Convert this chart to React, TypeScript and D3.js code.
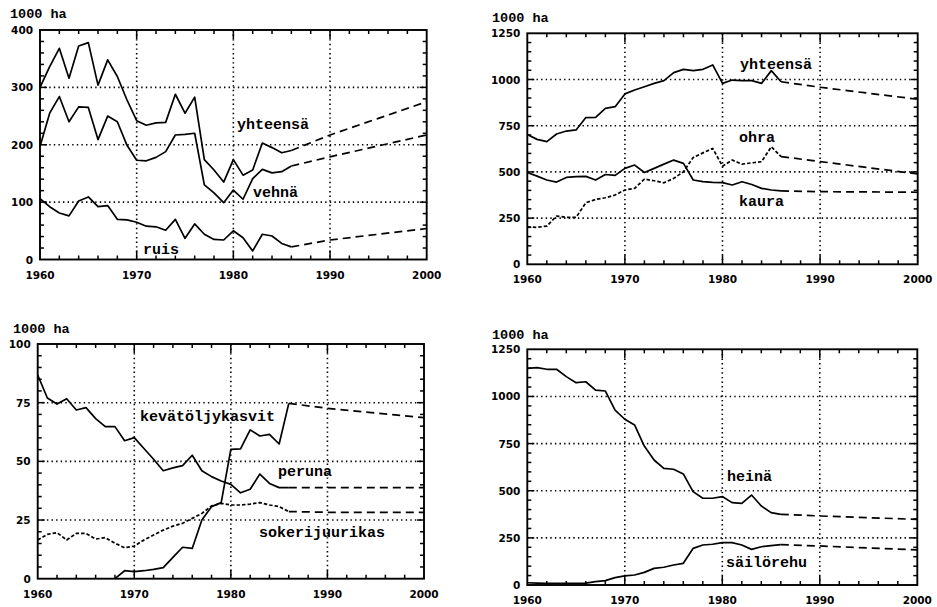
import React from 'react';
import * as d3 from 'd3';

// ---------- DATA ----------
const histYears = [1960,1961,1962,1963,1964,1965,1966,1967,1968,1969,1970,1971,1972,1973,1974,1975,1976,1977,1978,1979,1980,1981,1982,1983,1984,1985,1986];
const projYears3 = [1986, 1990, 2000];
const projYears4 = [1986, 1990, 1995, 2000];
const xTickLabels = ['1960', '1970', '1980', '1990', '2000'];

// Panel 1: yhteensä / vehnä / ruis
const p1Yhteensa = [300,336,368,316,372,378,304,348,319,278,242,234,238,239,288,255,283,174,156,135,174,147,156,203,195,186,190];
const p1YhteensaProj = [190,217,246,275];
const p1Vehna = [197,255,284,240,266,265,209,250,240,199,173,172,178,188,217,218,220,130,116,99,121,105,141,157,151,153,163];
const p1VehnaProj = [163,179,198,217];
const p1Ruis = [106,92,81,76,102,109,92,94,70,69,65,58,57,51,70,37,62,44,35,34,50,38,15,44,41,28,22];
const p1RuisProj = [22,34,44,54];
const p1YTicks = [0,100,200,300,400];

// Panel 2: yhteensä / ohra / kaura
const p2Yhteensa = [703,676,664,705,721,727,794,795,844,853,922,943,961,979,994,1037,1055,1048,1055,1079,979,997,994,994,979,1048,988];
const p2YhteensaProj = [988,958,893];
const p2Ohra = [203,200,207,261,254,254,333,351,360,375,402,411,461,452,441,465,501,578,603,627,531,564,542,549,555,636,583];
const p2OhraProj = [583,556,489];
const p2Kaura = [497,477,456,445,470,474,476,456,486,481,519,537,497,519,542,564,546,456,447,443,442,429,447,432,411,402,397];
const p2KauraProj = [397,393,390];
const p2YTicks = [0,250,500,750,1000,1250];

// Panel 3: kevätöljykasvit / peruna / sokerijuurikas
const p3Peruna = [86.8,77,74.4,76.7,71.9,72.9,68.2,64.8,64.8,58.8,60.1,55.5,50.9,46.0,47.2,48.2,52.6,46.0,43.5,41.6,40.2,36.6,38.1,44.6,40.6,38.8,38.8];
const p3PerunaProj = [38.8,38.8,38.8];
const p3OljyYears = [1968,1969,1970,1971,1972,1973,1974,1975,1976,1977,1978,1979,1980,1981,1982,1983,1984,1985,1986];
const p3Oljy = [0,3.4,3.0,3.4,4.0,4.7,9.1,13.4,12.9,25,30.7,32.4,55.1,55.3,63.4,60.8,61.5,57.4,74.7];
const p3OljyProj = [74.7,72.6,68.6];
const p3Sokeri = [16.5,18.9,19.6,16.5,19.3,19.3,16.9,17.5,15.1,13.2,13.9,16.5,18.6,20.7,22.4,23.6,25.7,27.8,31,32.1,31.4,31.4,31.8,32.4,31.4,30.7,28.6];
const p3SokeriProj = [28.6,28.3,28.3];
const p3YTicks = [0,25,50,75,100];

// Panel 4: heinä / säilörehu
const p4Heina = [1149,1153,1144,1144,1105,1073,1078,1034,1029,928,879,849,737,663,619,614,589,495,460,460,469,437,433,477,419,384,375];
const p4HeinaProj = [375,366,348];
const p4Sailo = [12,10,9,9,9,9,10,18,23,39,48,53,67,88,94,106,115,194,212,216,225,225,212,189,203,209,214];
const p4SailoProj = [214,207,186];
const p4YTicks = [0,250,500,750,1000,1250];

// ---------- RENDERING ----------
type Series = {
  years: number[]; values: number[];
  projYears: number[]; proj: number[];
  shortDash?: boolean;
};
type Label = { text: string; x: number; y: number };
type PanelProps = {
  x0: number; x1: number; yTop: number; yBot: number;
  yTicks: number[]; yMinor: number;
  series: Series[]; labels: Label[];
  unitX: number; unitY: number;
};

const tickFont = '"DejaVu Sans", sans-serif';
const monoFont = '"Liberation Mono", "DejaVu Sans Mono", monospace';

function Panel(p: PanelProps) {
  const x = d3.scaleLinear().domain([1960, 2000]).range([p.x0, p.x1]);
  const yMax = p.yTicks[p.yTicks.length - 1];
  const y = d3.scaleLinear().domain([0, yMax]).range([p.yBot, p.yTop]);
  const line = d3.line<[number, number]>().x(d => x(d[0])).y(d => y(d[1]));
  const minorX = d3.range(1962, 2000, 2);
  const minorY = d3.range(p.yMinor, yMax, p.yMinor);
  const grid = p.yTicks.slice(1, -1);
  const vGrid = [1970, 1980, 1990];
  return (
    <g>
      {grid.map(v => (
        <line key={'h' + v} x1={p.x0} x2={p.x1} y1={y(v)} y2={y(v)} stroke="#000" strokeWidth={1.6} strokeDasharray="1.4,3.2" />
      ))}
      {vGrid.map(v => (
        <line key={'v' + v} x1={x(v)} x2={x(v)} y1={p.yTop} y2={p.yBot} stroke="#000" strokeWidth={1.6} strokeDasharray="1.4,3.2" />
      ))}
      {minorX.map(v => {
        const len = v % 10 === 0 ? 9 : 4;
        return (
          <g key={'mx' + v}>
            <line x1={x(v)} x2={x(v)} y1={p.yBot} y2={p.yBot - len} stroke="#000" strokeWidth={1.5} />
            <line x1={x(v)} x2={x(v)} y1={p.yTop} y2={p.yTop + len} stroke="#000" strokeWidth={1.5} />
          </g>
        );
      })}
      {minorY.map(v => {
        const major = p.yTicks.includes(v);
        const len = major ? 7 : 4;
        return (
          <g key={'my' + v}>
            <line x1={p.x0} x2={p.x0 + len} y1={y(v)} y2={y(v)} stroke="#000" strokeWidth={1.5} />
            <line x1={p.x1} x2={p.x1 - len} y1={y(v)} y2={y(v)} stroke="#000" strokeWidth={1.5} />
          </g>
        );
      })}
      <rect x={p.x0} y={p.yTop} width={p.x1 - p.x0} height={p.yBot - p.yTop} fill="none" stroke="#000" strokeWidth={1.9} />
      {p.yTicks.map(v => (
        <text key={'yl' + v} x={p.x0 - 7} y={y(v) + 4} textAnchor="end" fontFamily={tickFont} fontWeight="bold" fontSize={10.5} fill="#000">{v}</text>
      ))}
      {xTickLabels.map(t => (
        <text key={'xl' + t} x={x(+t)} y={p.yBot + 19} textAnchor="middle" fontFamily={tickFont} fontWeight="bold" fontSize={10.5} fill="#000">{t}</text>
      ))}
      <text x={p.unitX} y={p.unitY} fontFamily={monoFont} fontWeight="bold" fontSize={13.5} fill="#000">1000 ha</text>
      {p.series.map((s, i) => (
        <g key={'s' + i}>
          <path d={line(s.years.map((yr, j) => [yr, s.values[j]] as [number, number])) || ''} fill="none" stroke="#000" strokeWidth={1.7}
            strokeDasharray={s.shortDash ? '3.5,2' : undefined} strokeLinejoin="round" />
          <path d={line(s.projYears.map((yr, j) => [yr, s.proj[j]] as [number, number])) || ''} fill="none" stroke="#000" strokeWidth={1.7}
            strokeDasharray="8,5" />
        </g>
      ))}
      {p.labels.map(l => (
        <text key={l.text} x={l.x} y={l.y} fontFamily={monoFont} fontWeight="bold" fontSize={15} fill="#000">{l.text}</text>
      ))}
    </g>
  );
}

export default function App() {
  return (
    <svg width={937} height={607} style={{ position: 'absolute', left: 0, top: 0, background: '#fff' }}>
      <rect x={0} y={0} width={937} height={607} fill="#fff" />
      <Panel x0={40} x1={426.7} yTop={30} yBot={259.5} yTicks={p1YTicks} yMinor={20}
        unitX={10} unitY={18}
        series={[
          { years: histYears, values: p1Yhteensa, projYears: projYears4, proj: p1YhteensaProj },
          { years: histYears, values: p1Vehna, projYears: projYears4, proj: p1VehnaProj },
          { years: histYears, values: p1Ruis, projYears: projYears4, proj: p1RuisProj },
        ]}
        labels={[
          { text: 'yhteensä', x: 237, y: 129 },
          { text: 'vehnä', x: 253, y: 197 },
          { text: 'ruis', x: 143, y: 254 },
        ]} />
      <Panel x0={527.3} x1={917.7} yTop={33.3} yBot={264.3} yTicks={p2YTicks} yMinor={50}
        unitX={492} unitY={22}
        series={[
          { years: histYears, values: p2Yhteensa, projYears: projYears3, proj: p2YhteensaProj },
          { years: histYears, values: p2Ohra, projYears: projYears3, proj: p2OhraProj, shortDash: true },
          { years: histYears, values: p2Kaura, projYears: projYears3, proj: p2KauraProj },
        ]}
        labels={[
          { text: 'yhteensä', x: 740, y: 69 },
          { text: 'ohra', x: 739, y: 142 },
          { text: 'kaura', x: 739, y: 206 },
        ]} />
      <Panel x0={37.7} x1={424} yTop={344} yBot={578.7} yTicks={p3YTicks} yMinor={5}
        unitX={13} unitY={333}
        series={[
          { years: histYears, values: p3Peruna, projYears: projYears3, proj: p3PerunaProj },
          { years: p3OljyYears, values: p3Oljy, projYears: projYears3, proj: p3OljyProj },
          { years: histYears, values: p3Sokeri, projYears: projYears3, proj: p3SokeriProj, shortDash: true },
        ]}
        labels={[
          { text: 'kevätöljykasvit', x: 140, y: 421 },
          { text: 'peruna', x: 278, y: 476 },
          { text: 'sokerijuurikas', x: 259, y: 537 },
        ]} />
      <Panel x0={527.3} x1={917.3} yTop={349.3} yBot={585} yTicks={p4YTicks} yMinor={50}
        unitX={492} unitY={339}
        series={[
          { years: histYears, values: p4Heina, projYears: projYears3, proj: p4HeinaProj },
          { years: histYears, values: p4Sailo, projYears: projYears3, proj: p4SailoProj },
        ]}
        labels={[
          { text: 'heinä', x: 727, y: 481 },
          { text: 'säilörehu', x: 726, y: 567 },
        ]} />
    </svg>
  );
}
